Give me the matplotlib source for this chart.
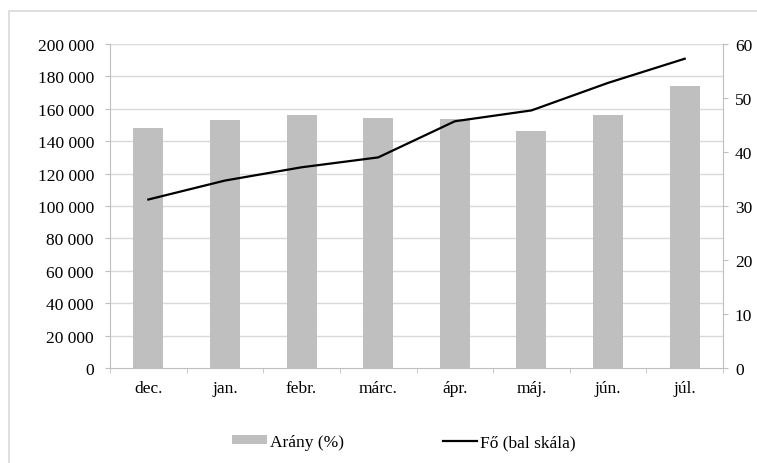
import matplotlib
matplotlib.use("Agg")
import matplotlib.pyplot as plt
from matplotlib.ticker import FuncFormatter, FixedLocator
from matplotlib.patches import Rectangle, Patch
from matplotlib.lines import Line2D

months = ["dec.", "jan.", "febr.", "márc.", "ápr.", "máj.", "jún.", "júl."]
fo_values = [104000, 115700, 123900, 130000, 152300, 159000, 176000, 190900]
arany_values = [44.4, 46.0, 46.9, 46.3, 46.1, 43.9, 46.8, 52.2]
left_ticks = [0, 20000, 40000, 60000, 80000, 100000, 120000, 140000, 160000, 180000, 200000]
right_ticks = [0, 10, 20, 30, 40, 50, 60]
legend_labels = ["Arány (%)", "Fő (bal skála)"]

plt.rcParams["font.family"] = ["Liberation Serif", "DejaVu Serif"]
plt.rcParams["font.size"] = 12.5

AXIS_GRAY = "#bfbfbf"
GRID_GRAY = "#d9d9d9"
BAR_GRAY = "#bfbfbf"
LEFT_MAX = 200000
RIGHT_MAX = 60

fig = plt.figure(figsize=(7.57, 4.64), dpi=100)
fig.patch.set_facecolor("white")

# outer chart frame
fig.patches.append(Rectangle((9 / 757, -0.1), 1.2, 1 - 12 / 464 + 0.1,
                             transform=fig.transFigure, fill=False,
                             edgecolor=GRID_GRAY, linewidth=1.2))

pos = [110 / 757, 1 - 369 / 464, (723 - 110) / 757, (369 - 45) / 464]
ax_bar = fig.add_axes(pos)
ax_line = ax_bar.twinx()

x = list(range(len(months)))

# horizontal gridlines follow the left-hand scale, drawn beneath the bars
for t in left_ticks[1:]:
    ax_bar.axhline(t / LEFT_MAX * RIGHT_MAX, color=GRID_GRAY, linewidth=1, zorder=0)

# bars on the right-hand scale
ax_bar.bar(x, arany_values, width=0.39, color=BAR_GRAY, zorder=2)
ax_bar.set_ylim(0, RIGHT_MAX)
ax_bar.set_xlim(-0.5, len(months) - 0.5)
ax_bar.yaxis.tick_right()
ax_bar.yaxis.set_label_position("right")
ax_bar.set_yticks(right_ticks)

# line on the left-hand scale
ax_line.plot(x, fo_values, color="black", linewidth=1.6, zorder=3)
ax_line.set_ylim(0, LEFT_MAX)
ax_line.yaxis.tick_left()
ax_line.yaxis.set_label_position("left")
ax_line.set_yticks(left_ticks)
ax_line.yaxis.set_major_formatter(
    FuncFormatter(lambda v, _: f"{int(v):,}".replace(",", " ")))
ax_line.set_zorder(ax_bar.get_zorder() + 1)
ax_line.patch.set_visible(False)

for a in (ax_bar, ax_line):
    for s in a.spines.values():
        s.set_visible(False)

ax_line.spines["left"].set_visible(True)
ax_line.spines["left"].set_color(AXIS_GRAY)
ax_bar.spines["right"].set_visible(True)
ax_bar.spines["right"].set_color(AXIS_GRAY)
ax_bar.spines["bottom"].set_visible(True)
ax_bar.spines["bottom"].set_color(AXIS_GRAY)

ax_line.tick_params(axis="y", left=True, right=False, labelleft=True,
                    labelright=False, length=3.6, color=AXIS_GRAY, pad=8)
ax_bar.tick_params(axis="y", left=False, right=True, labelleft=False,
                   labelright=True, length=3.6, color=AXIS_GRAY, pad=5)

# category labels centred, tick marks on the category boundaries
ax_bar.set_xticks(x)
ax_bar.set_xticklabels(months)
ax_bar.tick_params(axis="x", which="major", length=0, pad=9)
ax_bar.xaxis.set_minor_locator(FixedLocator([i - 0.5 for i in range(len(months) + 1)]))
ax_bar.tick_params(axis="x", which="minor", length=3.6, color=AXIS_GRAY)
ax_line.tick_params(axis="x", bottom=False, labelbottom=False)

handles = [Patch(facecolor=BAR_GRAY, edgecolor="none"),
           Line2D([0], [0], color="black", linewidth=1.6)]
fig.legend(handles, legend_labels, ncol=2, loc="center",
           bbox_to_anchor=(404 / 757, 1 - 443 / 464), frameon=False,
           handlelength=2.0, handleheight=0.4, handletextpad=0.15,
           columnspacing=5.7)

fig.savefig("out.png", dpi=100, facecolor="white")
